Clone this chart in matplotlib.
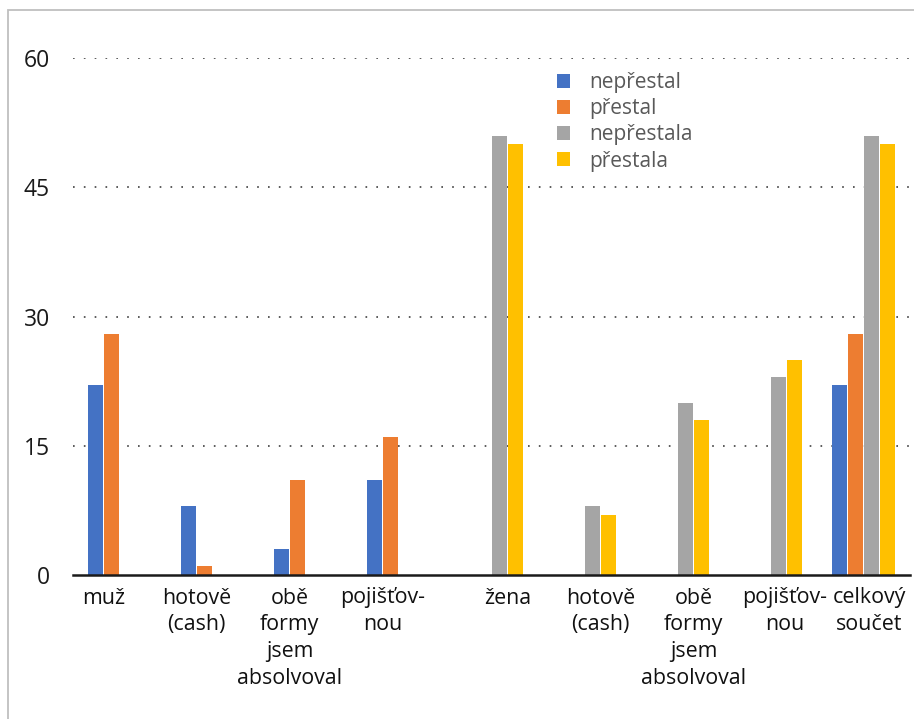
import matplotlib
matplotlib.use("Agg")
import matplotlib.pyplot as plt
import matplotlib.transforms as mtransforms
import numpy as np
from matplotlib.patches import Patch, Rectangle

plt.rcParams['font.family'] = ['Open Sans', 'DejaVu Sans']

categories = ["muž", "hotově\n(cash)", "obě\nformy\njsem\nabsolvoval", "pojišťov-\nnou",
              "žena", "hotově\n(cash)", "obě\nformy\njsem\nabsolvoval", "pojišťov-\nnou",
              "celkový\nsoučet"]
series_names = ["nepřestal", "přestal", "nepřestala", "přestala"]
nepřestal = [22, 8, 3, 11, None, None, None, None, 22]
přestal = [28, 1, 11, 16, None, None, None, None, 28]
nepřestala = [None, None, None, None, 51, 8, 20, 23, 51]
přestala = [None, None, None, None, 50, 7, 18, 25, 50]
y_ticks = [0, 15, 30, 45, 60]

colors = ["#4472C4", "#ED7D31", "#A5A5A5", "#FFC000"]
all_series = [nepřestal, přestal, nepřestala, přestala]

W, H = 914, 719
fig = plt.figure(figsize=(W / 100, H / 100), dpi=100)

# outer chart frame
fig.patches.append(Rectangle((8 / W, -0.1), 1.2, (H - 10) / H + 0.1,
                             transform=fig.transFigure, fill=False,
                             edgecolor="#BFBFBF", linewidth=1.3))

ax = fig.add_axes([73 / W, 144 / H, (910 - 73) / W, (575 - 58) / H])

n = len(categories)
x = np.arange(n)
slot = 0.172
bar_w = 0.152
offsets = (np.arange(4) - 1.5) * slot

present_pos = [[] for _ in range(n)]
for i, (vals, col, name) in enumerate(zip(all_series, colors, series_names)):
    xs = [x[j] + offsets[i] for j, v in enumerate(vals) if v is not None]
    hs = [v for v in vals if v is not None]
    ax.bar(xs, hs, width=bar_w, color=col, label=name, zorder=3)
    for j, v in enumerate(vals):
        if v is not None:
            present_pos[j].append(x[j] + offsets[i])

ax.set_xlim(-0.5, n - 0.5)
ax.set_ylim(0, 60)
ax.set_yticks(y_ticks)
ax.set_yticklabels([str(t) for t in y_ticks], fontsize=16.5, color="#1a1a1a")
ax.tick_params(axis="y", length=0, pad=16.5)

# each category label sits under the bars it actually has
ax.set_xticks([np.mean(p) for p in present_pos])
ax.set_xticklabels(categories, fontsize=15.4, color="#111111", linespacing=1.36)
ax.tick_params(axis="x", length=0, pad=9)

# keep the last two labels from touching
xlabels = ax.get_xticklabels()
xlabels[-1].set_transform(xlabels[-1].get_transform() +
                          mtransforms.ScaledTranslation(6 / 100, 0, fig.dpi_scale_trans))
xlabels[-2].set_transform(xlabels[-2].get_transform() +
                          mtransforms.ScaledTranslation(-2 / 100, 0, fig.dpi_scale_trans))

for t in y_ticks[1:]:
    ax.axhline(t, color="#404040", linestyle=(0, (1, 5.5)), linewidth=1.2, zorder=1)

for s in ["left", "right", "top"]:
    ax.spines[s].set_visible(False)
ax.spines["bottom"].set_color("#1a1a1a")
ax.spines["bottom"].set_linewidth(1.8)
ax.spines["bottom"].set_zorder(4)

handles = [Patch(facecolor=c, edgecolor="none") for c in colors]
leg = fig.legend(handles, series_names, loc="upper left",
                 bbox_to_anchor=(557 / W, 1 - 72 / H), frameon=False,
                 fontsize=15, handlelength=0.64, handleheight=0.64,
                 handletextpad=0.9, labelspacing=0.25, borderaxespad=0,
                 borderpad=0)
for t in leg.get_texts():
    t.set_color("#595959")

fig.savefig("out.png", dpi=100)
